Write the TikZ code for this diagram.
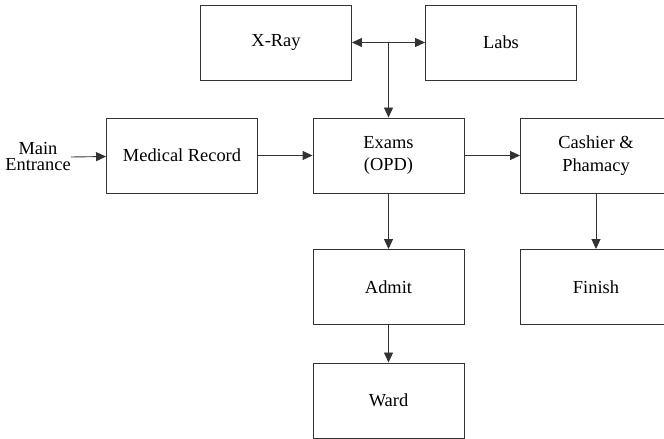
\documentclass[tikz,border=0pt]{standalone}
\usepackage{fontspec}
\setmainfont{Liberation Serif}
\usetikzlibrary{arrows.meta}
\begin{document}
\begin{tikzpicture}[x=1pt,y=1pt,font=\rmfamily\fontsize{18.4}{22.5}\selectfont,
    unit/.style={draw=black!80,line width=.9pt,minimum width=151pt,minimum height=75pt,inner sep=0pt,align=center},
    flow/.style={draw=black!80,line width=.9pt,-{Triangle[length=10pt,width=9pt]}},
    both/.style={flow,{Triangle[length=10pt,width=9pt]}-{Triangle[length=10pt,width=9pt]}}]
\useasboundingbox (0,0) rectangle (664,439);
\clip (0,0) rectangle (664,439);
\node[unit] (xray) at (276,396.5) {X-Ray};
\node[unit] (labs) at (501,396.5) {Labs};
\node[unit] (record) at (182,283.5) {Medical Record};
\node[unit] (exams) at (388.5,283.5) {Exams\\(OPD)};
\node[unit] (cashier) at (596,283.5) {Cashier \&\\Phamacy};
\node[unit] (admit) at (388.5,152) {Admit};
\node[unit] (finish) at (596,152) {Finish};
\node[unit] (ward) at (388.5,38.5) {Ward};
\node[align=center,inner sep=0pt,font=\rmfamily\fontsize{18.4}{16}\selectfont] (entrance) at (38,282) {Main\\Entrance};
\coordinate (split) at (exams |- xray.east);
\draw[both] (xray) -- (labs);
\draw[flow] (split) -- (exams);
\draw[flow] (entrance.east) -- (record);
\draw[flow] (record) -- (exams);
\draw[flow] (exams) -- (cashier);
\draw[flow] (exams) -- (admit);
\draw[flow] (admit) -- (ward);
\draw[flow] (cashier) -- (finish);
\end{tikzpicture}
\end{document}
